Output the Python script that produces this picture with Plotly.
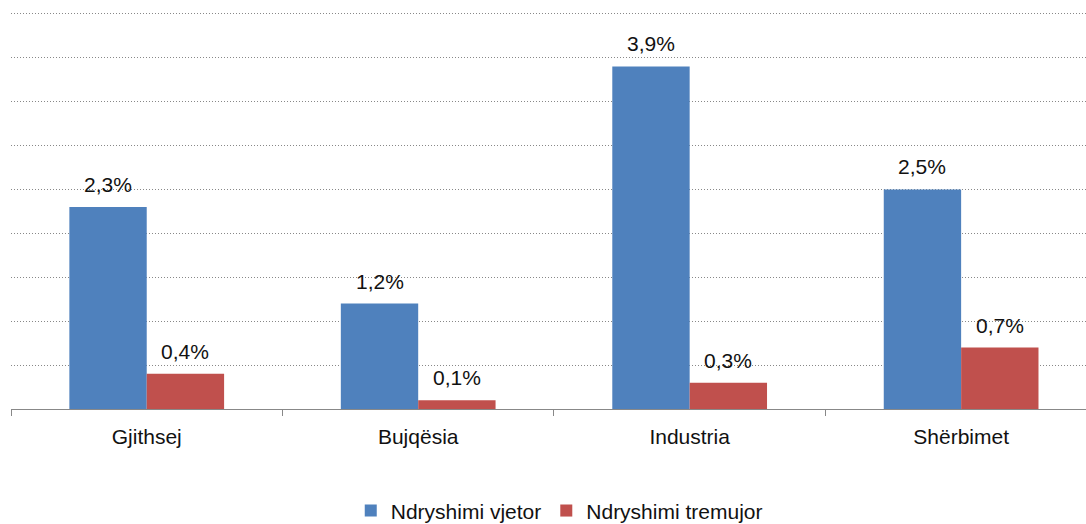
import plotly.graph_objects as go

categories = ["Gjithsej", "Bujqësia", "Industria", "Shërbimet"]
vjetor = [2.3, 1.2, 3.9, 2.5]
tremujor = [0.4, 0.1, 0.3, 0.7]
series_names = ["Ndryshimi vjetor", "Ndryshimi tremujor"]
colors = ["#4F81BD", "#C0504D"]


def fmt(v):
    return f"{v:.1f}%".replace(".", ",")


BARGAP = 0.43
fig = go.Figure()
for name, vals, col in zip(series_names, [vjetor, tremujor], colors):
    fig.add_trace(go.Bar(x=categories, y=vals, name=name, marker_color=col,
                         marker_line_width=0))

# value labels above bars
w = (1 - BARGAP) / 2
annotations = []
for i, vals in enumerate([vjetor, tremujor]):
    off = (i - 0.5) * w
    for j, v in enumerate(vals):
        annotations.append(dict(x=j + off, y=v, xref="x", yref="y", text=fmt(v),
                                showarrow=False, yanchor="bottom", yshift=9,
                                font=dict(size=21, color="#111")))

fig.update_layout(
    width=1086, height=524,
    margin=dict(l=11, r=0, t=12, b=115),
    paper_bgcolor="white", plot_bgcolor="white",
    barmode="group", bargap=BARGAP, bargroupgap=0,
    font=dict(family="Liberation Sans, Arial", size=21, color="#111"),
    annotations=annotations,
    showlegend=True,
    legend=dict(orientation="h", x=0.51, xanchor="center", yref="container",
                y=0.025, yanchor="middle", font=dict(size=21),
                itemwidth=30, traceorder="normal"),
    xaxis=dict(range=[-0.5, 3.46], showline=True, linecolor="#888", linewidth=1,
               ticks="outside", tickson="boundaries", ticklen=6, tickcolor="#888",
               ticklabelstandoff=9,
               showgrid=False, tickfont=dict(size=21)),
    yaxis=dict(range=[0, 4.52], tickvals=[0.5, 1, 1.5, 2, 2.5, 3, 3.5, 4, 4.5],
               showgrid=True, gridcolor="#888",
               griddash="1px,2px", gridwidth=1, showticklabels=False, zeroline=False,
               showline=False),
)

fig.write_html("out.html", config={"displayModeBar": False},
               post_script="document.body.style.margin='0';")
